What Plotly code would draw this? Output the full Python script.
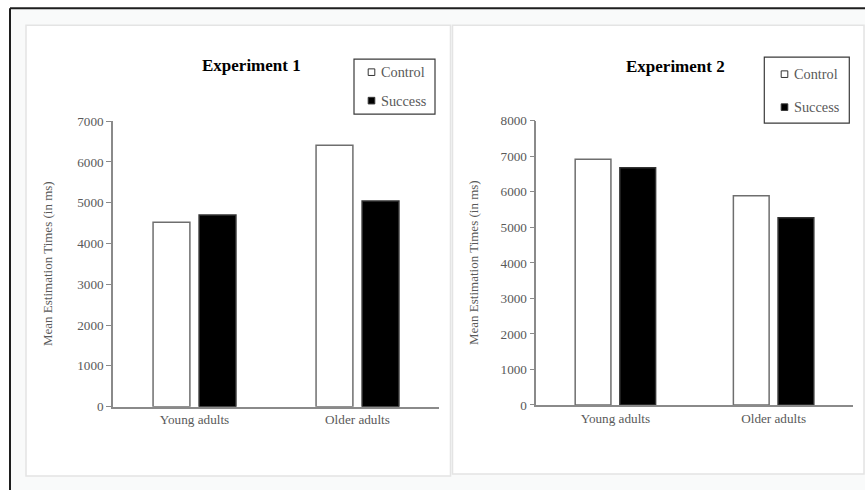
import plotly.graph_objects as go

W, H = 865, 490

categories = ["Young adults", "Older adults"]
series_names = ["Control", "Success"]
exp1_control = [4520, 6410]
exp1_success = [4700, 5040]
exp2_control = [6920, 5890]
exp2_success = [6680, 5270]
exp1_ticks = [0, 1000, 2000, 3000, 4000, 5000, 6000, 7000]
exp2_ticks = [0, 1000, 2000, 3000, 4000, 5000, 6000, 7000, 8000]
titles = ["Experiment 1", "Experiment 2"]
y_label = "Mean Estimation Times (in ms)"

FONT = "Liberation Serif, Times New Roman, serif"
GRAY_TXT = "#595959"
AXIS_COL = "#8a8a8a"

# vertical correction observed in the photographed page
VS, VB = 0.97, 6.8


def px(x):
    return x / W


def py(y):
    return 1 - ((y - VB) / VS) / H


fig = go.Figure()

bar_line = dict(color="#6e6e6e", width=1.5)
succ_line = dict(color="#333333", width=1.5)
fig.add_trace(go.Bar(x=categories, y=exp1_control, name=series_names[0],
                     marker=dict(color="white", line=bar_line),
                     xaxis="x", yaxis="y", showlegend=False))
fig.add_trace(go.Bar(x=categories, y=exp1_success, name=series_names[1],
                     marker=dict(color="black", line=succ_line),
                     xaxis="x", yaxis="y", showlegend=False))
fig.add_trace(go.Bar(x=categories, y=exp2_control, name=series_names[0],
                     marker=dict(color="white", line=bar_line),
                     xaxis="x2", yaxis="y2", showlegend=False))
fig.add_trace(go.Bar(x=categories, y=exp2_success, name=series_names[1],
                     marker=dict(color="black", line=succ_line),
                     xaxis="x2", yaxis="y2", showlegend=False))

tickfont = dict(family=FONT, size=13.2, color=GRAY_TXT)

xaxis_common = dict(type="category", showline=True, linecolor=AXIS_COL, linewidth=1.5,
                    ticks="", showgrid=False, zeroline=False, tickfont=tickfont,
                    fixedrange=True)
yaxis_common = dict(showline=True, linecolor=AXIS_COL, linewidth=1.5, ticks="outside",
                    ticklen=5, tickwidth=1.2, tickcolor=AXIS_COL, showgrid=False,
                    zeroline=False, tickfont=tickfont, fixedrange=True)

fig.update_layout(
    width=W, height=H,
    margin=dict(l=0, r=0, t=0, b=0),
    paper_bgcolor="white",
    plot_bgcolor="rgba(0,0,0,0)",
    barmode="group",
    bargap=0.435,
    bargroupgap=0.2,
    showlegend=False,
    font=dict(family=FONT),
    xaxis=dict(domain=[px(113), px(439)], anchor="y", **xaxis_common),
    yaxis=dict(domain=[py(406.7), py(121)], anchor="x", range=[0, 7000],
               tickvals=exp1_ticks, **yaxis_common),
    xaxis2=dict(domain=[px(536.3), px(852.7)], anchor="y2", **xaxis_common),
    yaxis2=dict(domain=[py(405), py(120.7)], anchor="x2", range=[0, 8000],
                tickvals=exp2_ticks, **yaxis_common),
)

shapes = []
# outer frame background
shapes.append(dict(type="rect", xref="paper", yref="paper", x0=px(10), x1=px(870),
                   y0=-0.05, y1=py(8), fillcolor="#f9fafa", line=dict(width=0), layer="below"))
# frame lines
shapes.append(dict(type="line", xref="paper", yref="paper", x0=px(10), x1=px(870),
                   y0=py(8), y1=py(8), line=dict(color="#1e1e1e", width=2), layer="below"))
shapes.append(dict(type="line", xref="paper", yref="paper", x0=px(10), x1=px(10),
                   y0=py(8), y1=-0.05, line=dict(color="#1e1e1e", width=2), layer="below"))
# panels
for (x0, x1, y0, y1) in [(26, 450.5, 25, 476), (452.5, 864, 25, 474)]:
    shapes.append(dict(type="rect", xref="paper", yref="paper", x0=px(x0), x1=px(x1),
                       y0=py(y1), y1=py(y0), fillcolor="white",
                       line=dict(color="#e4e4e4", width=1.5), layer="below"))

# legend boxes
legends = [
    dict(box=(354, 435, 59, 114), sq_x=371.5, txt_x=379, ys=(72, 100.5)),
    dict(box=(764.3, 849.3, 57, 123), sq_x=784.5, txt_x=791.5, ys=(74, 107)),
]
annotations = []
for lg in legends:
    bx0, bx1, by0, by1 = lg["box"]
    shapes.append(dict(type="rect", xref="paper", yref="paper", x0=px(bx0), x1=px(bx1),
                       y0=py(by1), y1=py(by0), fillcolor="white",
                       line=dict(color="#3a3a3a", width=1.2), layer="below"))
    for i, name in enumerate(series_names):
        yc = lg["ys"][i]
        s = 3.3
        shapes.append(dict(type="rect", xref="paper", yref="paper",
                           x0=px(lg["sq_x"] - s), x1=px(lg["sq_x"] + s),
                           y0=py(yc + s), y1=py(yc - s),
                           fillcolor="white" if i == 0 else "black",
                           line=dict(color="#333333", width=1), layer="above"))
        annotations.append(dict(xref="paper", yref="paper", x=px(lg["txt_x"]), y=py(yc),
                                text=name, showarrow=False, xanchor="left", yanchor="middle",
                                font=dict(family=FONT, size=14.3, color=GRAY_TXT)))

# titles
for t, (tx, ty) in zip(titles, [(251.7, 65.7), (675.7, 66)]):
    annotations.append(dict(xref="paper", yref="paper", x=px(tx), y=py(ty), text="<b>" + t + "</b>",
                            showarrow=False, xanchor="center", yanchor="middle",
                            font=dict(family=FONT, size=17, color="black")))

# y-axis labels
for (lx, ly) in [(47, 264), (473, 263)]:
    annotations.append(dict(xref="paper", yref="paper", x=px(lx), y=py(ly), text=y_label,
                            showarrow=False, textangle=-90, xanchor="center", yanchor="middle",
                            font=dict(family=FONT, size=13, color=GRAY_TXT)))

fig.update_layout(shapes=shapes, annotations=annotations)

fig.write_html("out.html", config={"displayModeBar": False},
               post_script="document.body.style.margin='0';document.body.style.overflow='hidden';")
